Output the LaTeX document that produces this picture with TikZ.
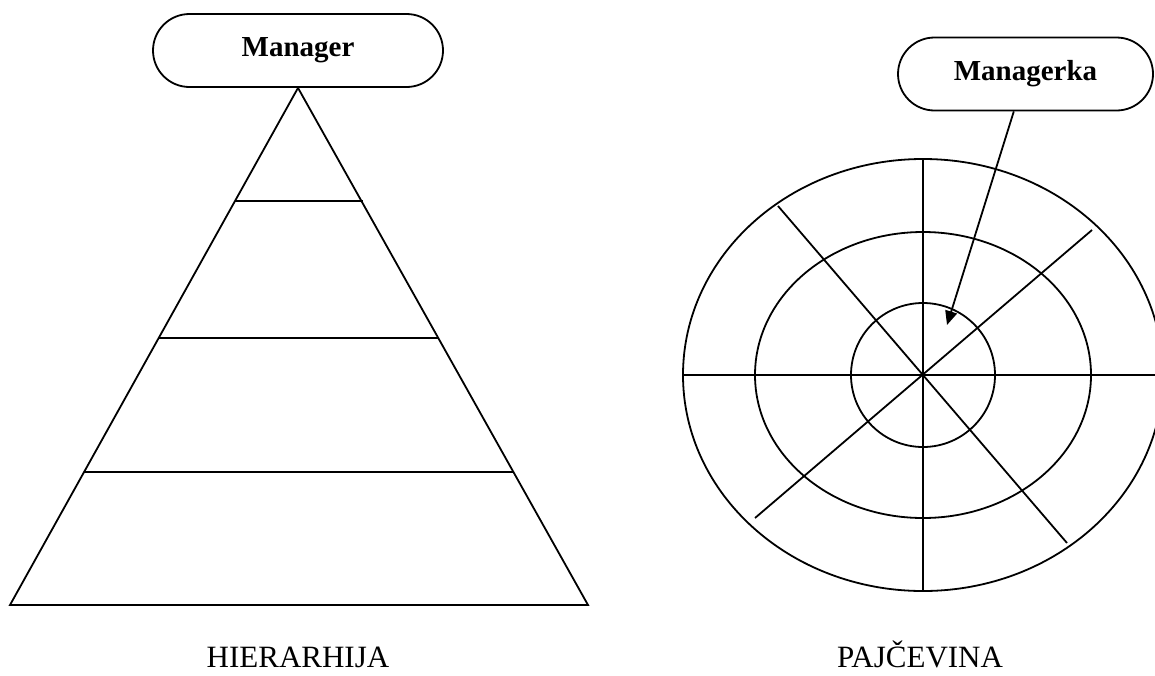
\documentclass[tikz,border=0pt]{standalone}
\usepackage{fontspec}
\setmainfont{Liberation Serif}
\usetikzlibrary{shapes.misc,arrows.meta}

\begin{document}
\begin{tikzpicture}[
    x=1pt, y=-1pt,
    >={Triangle[length=14pt,width=12pt]},
    line width=1.8pt,
    boss/.style={rounded rectangle, draw, minimum height=73pt, inner sep=0pt,
                 font=\fontsize{29}{34}\selectfont\bfseries},
    caption/.style={anchor=base, inner sep=0pt, font=\fontsize{31}{36}\selectfont}
]
  \useasboundingbox (0,0) rectangle (1155,675);
  \clip (0,0) rectangle (1155,675);

  % nodes
  \node[boss, minimum width=290pt] (mgr)   at (298,50.5)  {Manager};
  \node[boss, minimum width=255pt] (mgrka) at (1025.5,74) {Managerka};
  \node[caption] (hier) at (298,667) {HIERARHIJA};
  \node[caption] (web)  at (920,667) {PAJČEVINA};

  % pyramid
  \coordinate (apex) at (mgr.south);
  \draw (apex) -- (10,605) -- (588,605) -- cycle;
  \foreach \y/\w in {201/64, 338/140, 472/215}
    \draw (299-\w,\y) -- (299+\w,\y);

  % web
  \coordinate (hub) at (923,375);
  \draw (hub) ellipse [x radius=240pt, y radius=216pt];
  \draw (hub) ellipse [x radius=168pt, y radius=143pt];
  \draw (hub) circle [radius=72pt];
  \draw (923,158) -- (923,591);
  \draw (683,375) -- (1163,375);
  \draw (778,206) -- (1067,543);
  \draw (1092,230) -- (755,518);

  % edge
  \coordinate (tip) at (947,325);
  \draw[->] (mgrka) -- (tip);
\end{tikzpicture}
\end{document}
